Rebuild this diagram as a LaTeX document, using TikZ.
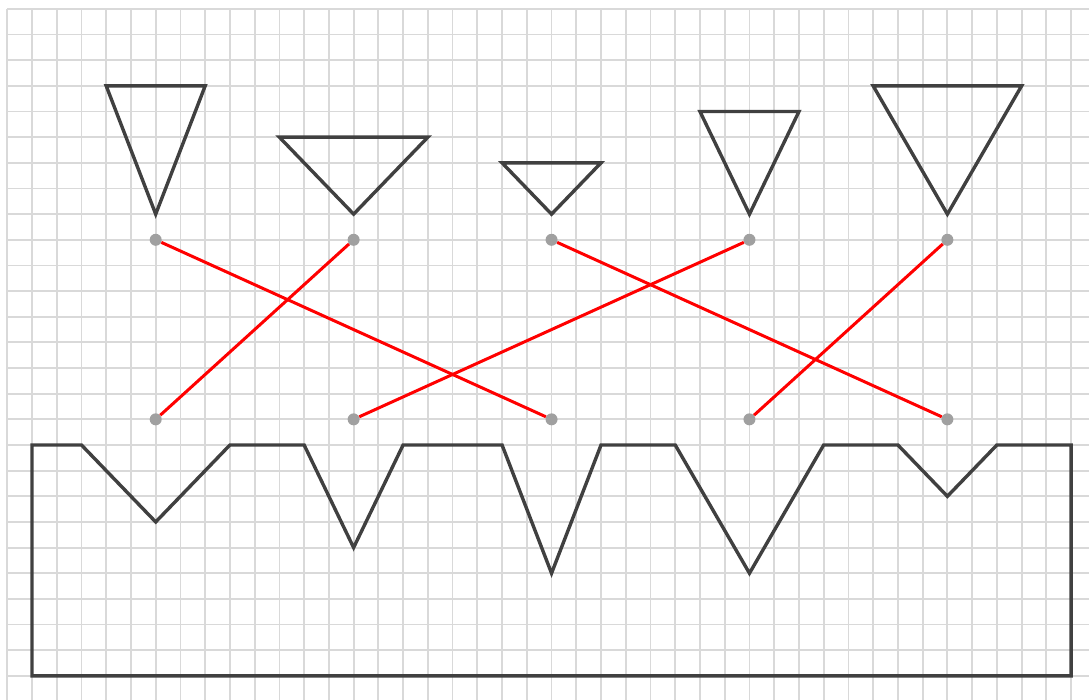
\documentclass[tikz,border=0pt]{standalone}
\begin{document}
\begin{tikzpicture}[x=24.74pt,y=25.65pt,
  gridline/.style={draw={rgb,255:red,217;green,217;blue,217},line width=1.8pt},
  shapeline/.style={draw={rgb,255:red,64;green,64;blue,64},line width=3.4pt,line join=miter},
  link/.style={draw=red,line width=3pt},
  dot/.style={circle,fill={rgb,255:red,160;green,160;blue,160},inner sep=0pt,minimum size=12pt}]
\useasboundingbox (-32pt,-254pt) rectangle (1057pt,445pt);
\clip (-32pt,-254pt) rectangle (1057pt,445pt);
\foreach \i in {-1,...,43} \draw[gridline] (\i,-11) -- (\i,17);
\foreach \j in {-10,...,17} \draw[gridline] (-1,\j) -- (44,\j);
% top triangles
\draw[shapeline] (3,14) -- (7,14) -- (5,9) -- cycle;
\draw[shapeline] (10,12) -- (16,12) -- (13,9) -- cycle;
\draw[shapeline] (19,11) -- (23,11) -- (21,9) -- cycle;
\draw[shapeline] (27,13) -- (31,13) -- (29,9) -- cycle;
\draw[shapeline] (34,14) -- (40,14) -- (37,9) -- cycle;
% bottom shape
\draw[shapeline] (0,0) -- (2,0) -- (5,-3) -- (8,0) -- (11,0) -- (13,-4) -- (15,0) -- (19,0) -- (21,-5) -- (23,0) -- (26,0) -- (29,-5) -- (32,0) -- (35,0) -- (37,-2) -- (39,0) -- (42,0) -- (42,-9) -- (0,-9) -- cycle;
% dots
\foreach \n/\u in {a/5,b/13,c/21,d/29,e/37} {
  \node[dot] (t\n) at (\u,8) {};
  \node[dot] (b\n) at (\u,1) {};
}
\draw[link] (ta) -- (bc);
\draw[link] (tb) -- (ba);
\draw[link] (tc) -- (be);
\draw[link] (td) -- (bb);
\draw[link] (te) -- (bd);
\end{tikzpicture}
\end{document}
